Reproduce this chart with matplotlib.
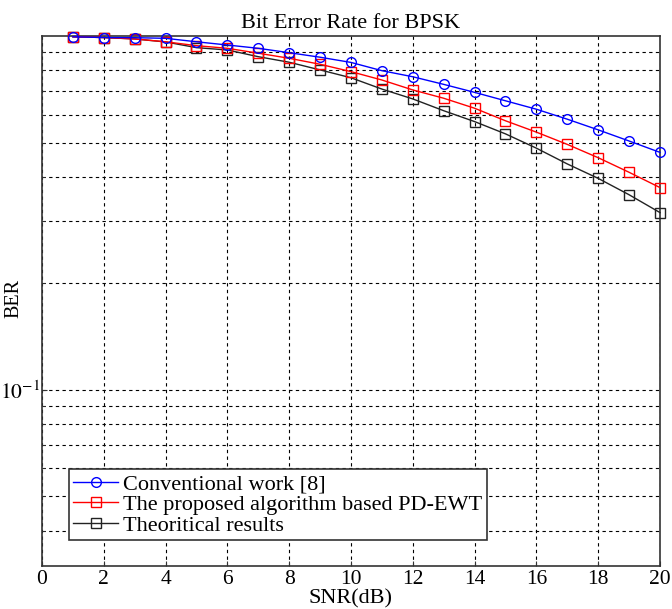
import numpy as np
import matplotlib
matplotlib.use("Agg")
import matplotlib.pyplot as plt
from matplotlib.ticker import FixedLocator, NullFormatter

plt.rcParams["font.family"] = ["Liberation Serif", "DejaVu Serif"]
plt.rcParams["mathtext.fontset"] = "stix"

snr = list(range(1, 21))

ber_conv = [0.995, 0.99, 0.989, 0.985, 0.963, 0.943, 0.923, 0.897, 0.871, 0.842,
            0.798, 0.767, 0.730, 0.693, 0.656, 0.621, 0.582, 0.543, 0.505, 0.469]
ber_prop = [0.995, 0.99, 0.981, 0.963, 0.939, 0.923, 0.894, 0.865, 0.832, 0.793,
            0.751, 0.704, 0.667, 0.625, 0.576, 0.535, 0.494, 0.453, 0.412, 0.373]
ber_theo = [0.995, 0.99, 0.981, 0.962, 0.927, 0.913, 0.874, 0.843, 0.802, 0.762,
            0.708, 0.664, 0.615, 0.573, 0.529, 0.482, 0.435, 0.396, 0.356, 0.317]

labels = ["Conventional work [8]",
          "The proposed algorithm based PD-EWT",
          "Theoritical results"]

fig = plt.figure(figsize=(6.72, 6.09), dpi=100)
ax = fig.add_axes([0.0625, 0.0706, 0.9196, 0.8703])

ax.plot(snr, ber_conv, color="#0000ff", marker="o", mfc="none", ms=7,
        lw=1, label=labels[0], clip_on=False, zorder=5)
ax.plot(snr, ber_prop, color="#ff0000", marker="s", mfc="none", ms=7,
        lw=1, label=labels[1], clip_on=False, zorder=4)
ax.plot(snr, ber_theo, color="#222222", marker="s", mfc="none", ms=7,
        lw=1, label=labels[2], clip_on=False, zorder=3)

ax.set_yscale("log")
ax.set_xlim(0, 20)
ax.set_ylim(0.0318, 1.0)
ax.set_xticks(range(0, 21, 2))
ax.yaxis.set_major_locator(FixedLocator([0.1]))
ax.set_yticklabels([r"$10^{-1}$"])
ax.yaxis.set_minor_locator(FixedLocator([0.04, 0.05, 0.06, 0.07, 0.08, 0.09,
                                         0.2, 0.3, 0.4, 0.5, 0.6, 0.7, 0.8, 0.9]))
ax.yaxis.set_minor_formatter(NullFormatter())

ax.grid(True, which="both", color="black", linestyle=(0, (3, 3)), linewidth=0.8)
ax.tick_params(which="both", direction="in", labelsize=15.5, color="#333333",
               pad=3)
ax.tick_params(axis="y", pad=1)
for sp in ax.spines.values():
    sp.set_color("#333333")
    sp.set_linewidth(1.2)

ax.set_title("Bit Error Rate for BPSK", fontsize=16, pad=6)
ax.set_xlabel("SNR(dB)", fontsize=16, labelpad=0)
ax.set_ylabel("BER", fontsize=14.5)
ax.yaxis.set_label_coords(-0.03, 0.505)

leg = ax.legend(loc="lower left", bbox_to_anchor=(0.0435, 0.049), fontsize=16,
                fancybox=False, framealpha=1, edgecolor="#333333",
                borderpad=0.2, labelspacing=0.0, handlelength=2.0,
                handletextpad=0.25, borderaxespad=0)
leg.get_frame().set_linewidth(1.2)

fig.savefig("out.png", dpi=100)
